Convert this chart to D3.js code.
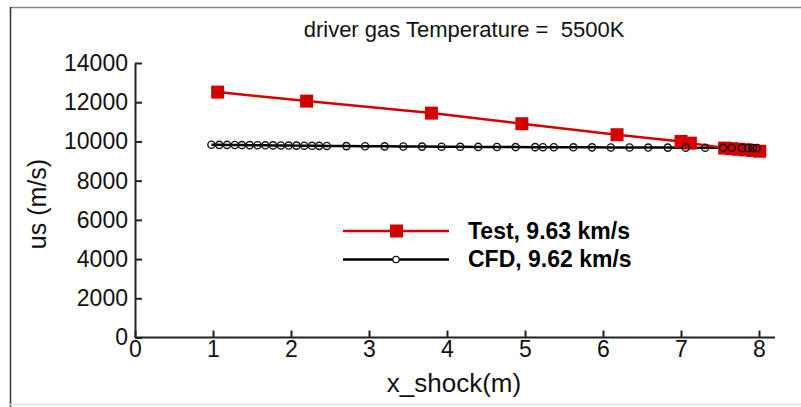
<!DOCTYPE html>
<html>
<head>
<meta charset="utf-8">
<script src="https://cdn.jsdelivr.net/npm/d3@7"></script>
<style>
  body { margin: 0; background: #fff; }
  svg { display: block; font-family: "Liberation Sans", Arial, sans-serif; }
</style>
</head>
<body>
<svg id="chart" width="801" height="407"></svg>
<script>
// Test measurement (red squares)
const testX = [1.06, 2.20, 3.80, 4.96, 6.18, 7.00, 7.12, 7.56, 7.65, 7.74, 7.83, 7.92, 8.01];
const testY = [12515, 12056, 11444, 10903, 10342, 10000, 9913, 9660, 9630, 9600, 9570, 9540, 9500];

// CFD (black open circles)
const cfdX = [0.98, 1.08, 1.18, 1.28, 1.37, 1.47, 1.57, 1.67, 1.77, 1.87, 1.97, 2.07, 2.17, 2.27, 2.36, 2.46,
              2.71, 2.95, 3.20, 3.44, 3.68, 3.93, 4.17, 4.40, 4.64, 4.88, 5.13, 5.23, 5.37, 5.62, 5.86,
              6.10, 6.34, 6.58, 6.83, 7.06, 7.31, 7.54, 7.65, 7.78, 7.86, 7.92, 7.97];
const cfdY = [9830, 9826, 9822, 9818, 9814, 9810, 9806, 9802, 9798, 9794, 9790, 9786, 9782, 9778, 9774, 9770,
              9762, 9755, 9748, 9742, 9736, 9730, 9725, 9720, 9716, 9712, 9708, 9706, 9704, 9700, 9697,
              9694, 9691, 9688, 9685, 9682, 9679, 9676, 9674, 9671, 9669, 9667, 9665];

const xTicks = [0, 1, 2, 3, 4, 5, 6, 7, 8];
const yTicks = [0, 2000, 4000, 6000, 8000, 10000, 12000, 14000];

const titleText = "driver gas Temperature =  5500K";
const legendLabels = ["Test, 9.63 km/s", "CFD, 9.62 km/s"];

const svg = d3.select("#chart");

// frame around the picture
svg.append("line").attr("x1", 10).attr("x2", 801).attr("y1", 7.5).attr("y2", 7.5)
    .attr("stroke", "#888").attr("stroke-width", 1.5);
svg.append("line").attr("x1", 10.5).attr("x2", 10.5).attr("y1", 7).attr("y2", 407)
    .attr("stroke", "#333").attr("stroke-width", 1.5);
svg.append("line").attr("x1", 10).attr("x2", 801).attr("y1", 404.5).attr("y2", 404.5)
    .attr("stroke", "#ddd").attr("stroke-width", 1.5);

const x = d3.scaleLinear().domain([0, 8]).range([135, 759]);
const y = d3.scaleLinear().domain([0, 14000]).range([337.5, 63]);

// AXES
const xAxis = svg.append("g")
    .attr("transform", `translate(0,${y(0)})`)
    .call(d3.axisBottom(x).tickValues(xTicks).tickFormat(d3.format("d")).tickSize(-7).tickPadding(10).tickSizeOuter(0));
xAxis.select(".domain").attr("d", `M${x(0)},0H775`);
const yAxis = svg.append("g")
    .attr("transform", `translate(${x(0)},0)`)
    .call(d3.axisLeft(y).tickValues(yTicks).tickFormat(d3.format("d")).tickSize(-7).tickPadding(7).tickSizeOuter(0));

[xAxis, yAxis].forEach(a => {
    a.selectAll(".domain, .tick line").attr("stroke", "#222").attr("stroke-width", 2);
    a.selectAll(".tick text").attr("fill", "#111").style("font-size", "23px");
});
xAxis.selectAll(".tick text").attr("dy", "0.71em").attr("y", 3);
yAxis.selectAll(".tick text").attr("x", -7);

// CFD line + circles
const cfd = cfdX.map((d, i) => ({ x: d, y: cfdY[i] }));
const test = testX.map((d, i) => ({ x: d, y: testY[i] }));
const line = d3.line().x(d => x(d.x)).y(d => y(d.y));

svg.append("path").datum(cfd)
    .attr("fill", "none").attr("stroke", "#000").attr("stroke-width", 2.5).attr("d", line);

// Test line + squares
svg.append("path").datum(test)
    .attr("fill", "none").attr("stroke", "#d40000").attr("stroke-width", 2.5).attr("d", line);
svg.selectAll(".sq").data(test).enter().append("rect")
    .attr("class", "sq")
    .attr("x", d => x(d.x) - 6.5).attr("y", d => y(d.y) - 6.5)
    .attr("width", 13).attr("height", 13)
    .attr("fill", "#d40000");

svg.selectAll(".pt").data(cfd).enter().append("circle")
    .attr("class", "pt")
    .attr("cx", d => x(d.x)).attr("cy", d => y(d.y)).attr("r", 3.6)
    .attr("fill", "none").attr("stroke", "#111").attr("stroke-width", 1.4);

// LEGEND
const lg = svg.append("g");
lg.append("line").attr("x1", 343).attr("x2", 449).attr("y1", 231).attr("y2", 231)
    .attr("stroke", "#d40000").attr("stroke-width", 2.5);
lg.append("rect").attr("x", 390).attr("y", 224.5).attr("width", 13).attr("height", 13).attr("fill", "#d40000");
lg.append("line").attr("x1", 343).attr("x2", 449).attr("y1", 259.5).attr("y2", 259.5)
    .attr("stroke", "#000").attr("stroke-width", 2.5);
lg.append("circle").attr("cx", 396).attr("cy", 259.5).attr("r", 3.2)
    .attr("fill", "#fff").attr("stroke", "#111").attr("stroke-width", 1.3);
lg.selectAll(".lt").data(legendLabels).enter().append("text")
    .attr("x", 468).attr("y", (d, i) => 239 + i * 28)
    .attr("fill", "#000").style("font-size", "23px").style("font-weight", "bold")
    .text(d => d);

// LABELS
svg.append("text").attr("x", 464).attr("y", 37).attr("text-anchor", "middle")
    .attr("fill", "#111").style("font-size", "22px").style("white-space", "pre").text(titleText);
svg.append("text").attr("x", 454).attr("y", 392).attr("text-anchor", "middle")
    .attr("fill", "#111").style("font-size", "26px").text("x_shock(m)");
svg.append("text").attr("transform", "translate(46,204) rotate(-90)").attr("text-anchor", "middle")
    .attr("fill", "#111").style("font-size", "25px").text("us (m/s)");
</script>
</body>
</html>
